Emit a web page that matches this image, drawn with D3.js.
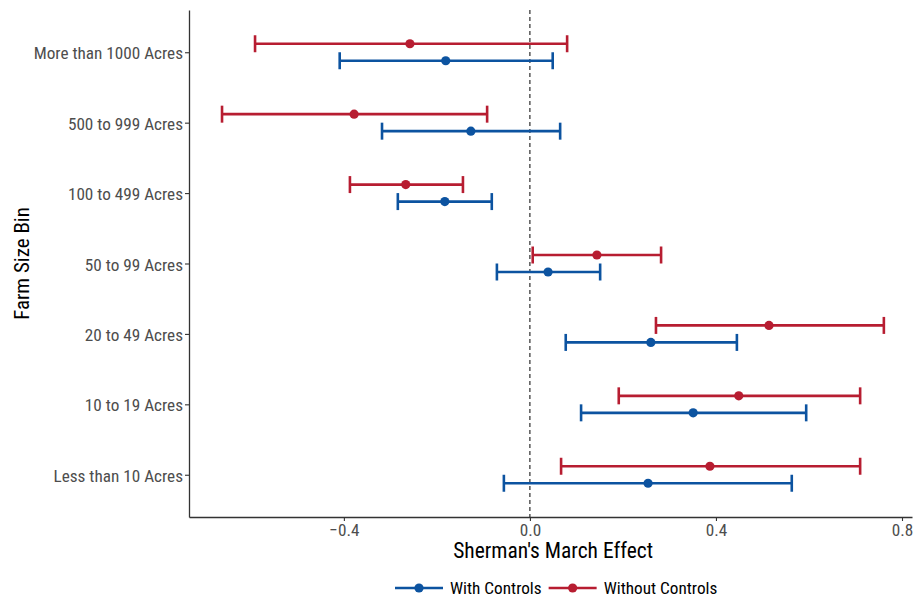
<!DOCTYPE html>
<html>
<head>
<meta charset="utf-8">
<script src="https://cdn.jsdelivr.net/npm/d3@7"></script>
<style>
  body { margin: 0; background: #fff; }
  text { font-family: "Roboto Condensed", "Liberation Sans Narrow", "Roboto", sans-serif; }
</style>
</head>
<body>
<div id="chart"></div>
<script>
// farm size bins, top to bottom
const bins = ["More than 1000 Acres", "500 to 999 Acres", "100 to 499 Acres", "50 to 99 Acres",
              "20 to 49 Acres", "10 to 19 Acres", "Less than 10 Acres"];

// Without Controls (red)
const noCtrlEst = [-0.258, -0.378, -0.267, 0.144, 0.514, 0.449, 0.387];
const noCtrlLo  = [-0.591, -0.662, -0.387, 0.006, 0.271, 0.191, 0.067];
const noCtrlHi  = [0.080, -0.092, -0.144, 0.282, 0.761, 0.710, 0.710];

// With Controls (blue)
const ctrlEst = [-0.181, -0.127, -0.183, 0.039, 0.260, 0.351, 0.254];
const ctrlLo  = [-0.409, -0.318, -0.284, -0.071, 0.077, 0.110, -0.056];
const ctrlHi  = [0.049, 0.065, -0.082, 0.151, 0.445, 0.594, 0.563];

const xTicks = [-0.4, 0.0, 0.4, 0.8];

const series = [
    {name: "With Controls", color: "#0C53A0", offset: 8.5, est: ctrlEst, lo: ctrlLo, hi: ctrlHi},
    {name: "Without Controls", color: "#B71D31", offset: -8.5, est: noCtrlEst, lo: noCtrlLo, hi: noCtrlHi}
];

const W = 917, H = 600;
const margin = {top: 10, right: 5, bottom: 83, left: 189};
const tickFont = "17.2px";

const svg = d3.select("#chart").append("svg")
    .attr("width", W)
    .attr("height", H);

const x = d3.scaleLinear()
    .domain([-0.733, 0.8215])
    .range([margin.left, W - margin.right]);

const y = d3.scalePoint()
    .domain(bins)
    .range([margin.top, H - margin.bottom])
    .padding(0.6);

// zero reference line
svg.append("line")
    .attr("x1", x(0)).attr("x2", x(0))
    .attr("y1", margin.top).attr("y2", H - margin.bottom)
    .attr("stroke", "#000")
    .attr("stroke-width", 1)
    .attr("stroke-dasharray", "4,3");

// error bars + points
series.forEach(s => {
    const g = svg.append("g");
    const rows = bins.map((b, i) => ({bin: b, est: s.est[i], lo: s.lo[i], hi: s.hi[i]}));
    const capH = 8.5;

    g.selectAll(".bar").data(rows).enter().append("line")
        .attr("x1", d => x(d.lo)).attr("x2", d => x(d.hi))
        .attr("y1", d => y(d.bin) + s.offset).attr("y2", d => y(d.bin) + s.offset)
        .attr("stroke", s.color).attr("stroke-width", 2.6);

    ["lo", "hi"].forEach(k => {
        g.selectAll(".cap-" + k).data(rows).enter().append("line")
            .attr("x1", d => x(d[k])).attr("x2", d => x(d[k]))
            .attr("y1", d => y(d.bin) + s.offset - capH)
            .attr("y2", d => y(d.bin) + s.offset + capH)
            .attr("stroke", s.color).attr("stroke-width", 2.6);
    });

    g.selectAll("circle").data(rows).enter().append("circle")
        .attr("cx", d => x(d.est))
        .attr("cy", d => y(d.bin) + s.offset)
        .attr("r", 4.6)
        .attr("fill", s.color);
});

// axes
const xAxis = svg.append("g")
    .attr("transform", `translate(0, ${H - margin.bottom})`)
    .call(d3.axisBottom(x).tickValues(xTicks).tickFormat(d3.format(".1f")).tickSize(4).tickSizeOuter(0));

const yAxis = svg.append("g")
    .attr("transform", `translate(${margin.left}, 0)`)
    .call(d3.axisLeft(y).tickSize(4).tickSizeOuter(0));

[xAxis, yAxis].forEach(a => {
    a.select(".domain").attr("stroke", "#333").attr("stroke-width", 1.3);
    a.selectAll(".tick line").attr("stroke", "#333").attr("stroke-width", 1.1);
    a.selectAll(".tick text").attr("fill", "#4d4d4d").style("font-size", tickFont);
});
xAxis.selectAll(".tick text").attr("y", 6).attr("dy", "0.75em");
yAxis.selectAll(".tick text").attr("x", -6).attr("dy", "0.38em");

// axis titles
svg.append("text")
    .attr("x", x(0.05)).attr("y", 558)
    .attr("text-anchor", "middle")
    .style("font-size", "21.5px")
    .attr("fill", "#000")
    .text("Sherman's March Effect");

svg.append("text")
    .attr("transform", `translate(29, ${(margin.top + H - margin.bottom) / 2}) rotate(-90)`)
    .attr("text-anchor", "middle")
    .style("font-size", "21px")
    .attr("fill", "#000")
    .text("Farm Size Bin");

// legend
const legend = svg.append("g").attr("transform", "translate(395, 588)");
let lx = 0;
series.forEach(s => {
    const item = legend.append("g").attr("transform", `translate(${lx}, 0)`);
    item.append("line").attr("x1", 0).attr("x2", 48).attr("y1", 0).attr("y2", 0)
        .attr("stroke", s.color).attr("stroke-width", 2.6);
    item.append("circle").attr("cx", 24).attr("cy", 0).attr("r", 4.6).attr("fill", s.color);
    const t = item.append("text").attr("x", 55).attr("y", 0).attr("dy", "0.35em")
        .style("font-size", tickFont).attr("fill", "#000").text(s.name);
    lx += 55 + t.node().getComputedTextLength() + 7;
});
</script>
</body>
</html>
